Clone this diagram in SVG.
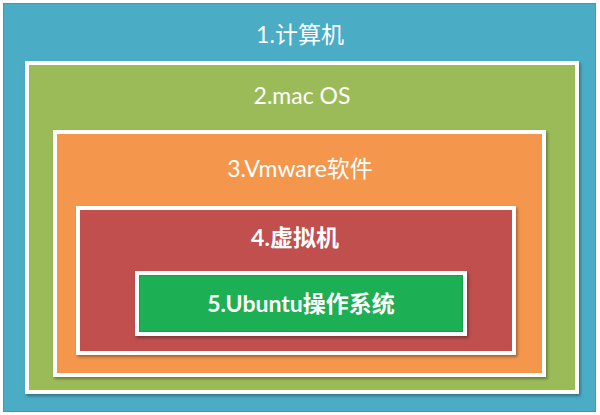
<svg xmlns="http://www.w3.org/2000/svg" width="600" height="415" viewBox="0 0 600 415">
<defs>
<filter id="sh" x="-5%" y="-5%" width="112%" height="115%">
<feDropShadow dx="1.5" dy="2" stdDeviation="1.5" flood-color="#000" flood-opacity="0.35"/>
</filter>
<style>
.box{stroke:#fff;stroke-width:4;filter:url(#sh)}
.lbl{font-family:Lato,"Liberation Sans","Noto Sans CJK SC",sans-serif;font-size:23px;fill:#fff;text-anchor:middle}
.b{font-weight:bold}
</style>
</defs>
<rect width="600" height="415" fill="#fff"/>
<g id="n1">
<rect x="3.5" y="3.5" width="592" height="408" fill="#4BACC6" stroke="#3C9CB8" stroke-width="1"/>
<text class="lbl" x="300" y="43">1.计算机</text>
</g>
<g id="n2">
<rect class="box" x="27" y="63" width="550" height="329" fill="#9BBB59"/>
<text class="lbl" x="302" y="104">2.mac OS</text>
</g>
<g id="n3">
<rect class="box" x="55" y="132" width="489" height="243" fill="#F4974D"/>
<text class="lbl" x="300" y="177">3.Vmware软件</text>
</g>
<g id="n4">
<rect class="box" x="78" y="208" width="436" height="145" fill="#C0504D"/>
<text class="lbl b" x="295" y="246">4.虚拟机</text>
</g>
<g id="n5">
<rect class="box" x="137" y="273" width="328" height="61" fill="#1DAF53"/>
<rect x="139.5" y="275.5" width="323" height="56" fill="none" stroke="#12A048" stroke-width="1"/>
<text class="lbl b" x="301" y="312">5.Ubuntu操作系统</text>
</g>
<g id="connectors"/>
</svg>
